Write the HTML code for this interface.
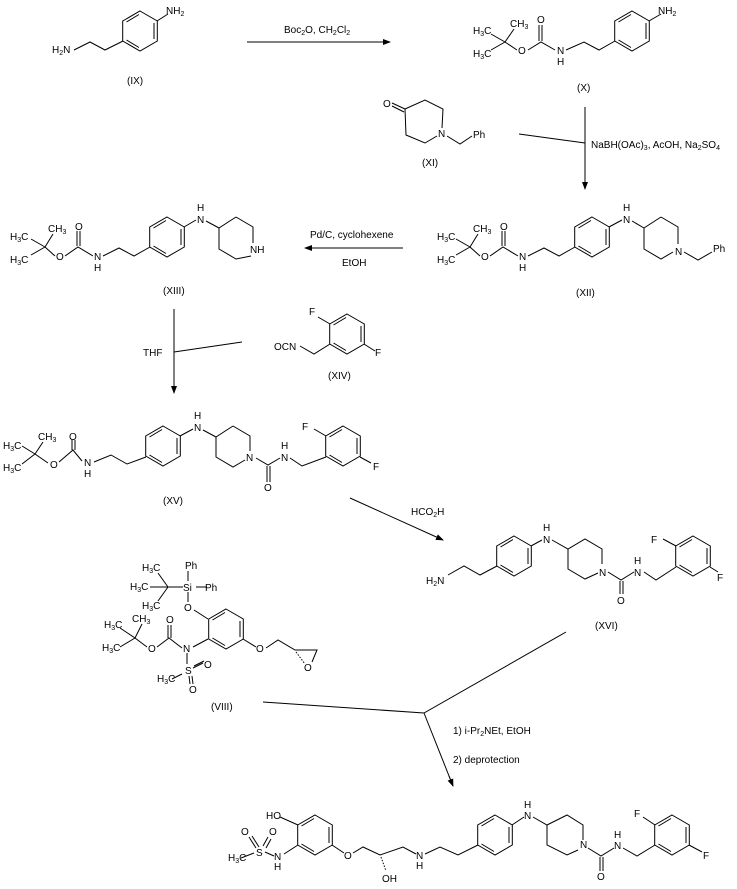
<!DOCTYPE html>
<html><head><meta charset="utf-8"><style>
html,body{margin:0;padding:0;background:#fff}
svg{display:block}
text{font-family:"Liberation Sans",sans-serif;font-size:10px;fill:#000}
.s{font-size:7px}
</style></head><body>
<svg width="737" height="889" viewBox="0 0 737 889" xmlns="http://www.w3.org/2000/svg">
<defs>
<g id="h"><polygon points="0,-20 17.3,-10 17.3,10 0,20 -17.3,10 -17.3,-10" fill="none" stroke="#000"/></g>
<g id="a"><polygon points="0,-20 17.3,-10 17.3,10 0,20 -17.3,10 -17.3,-10" fill="none" stroke="#000"/>
<path d="M14,-8 L14,8 M-1,16.5 L-13.5,9 M-13.5,-9 L-1,-16.5" stroke="#000" fill="none"/></g>
<marker id="ar" markerWidth="8" markerHeight="6" refX="7" refY="3" orient="auto" markerUnits="userSpaceOnUse"><path d="M0,0 L8,3 L0,6 z" fill="#000"/></marker>
</defs>
<g stroke="#000" stroke-width="1" fill="none">
<!-- IX -->
<use href="#a" x="140" y="31"/>
<path d="M157,21 L168,14 M123,41 L105,50 L90,42 L74,50"/>
<path d="M247,42 L390,42" marker-end="url(#ar)"/>
<!-- X -->
<use href="#a" x="632" y="31"/>
<path d="M649,21 L661,14 M615,41 L599,50 L584,42 L566,50 M555,50 L541,42 L528,50 M517,50 L505,42 L514,29 M505,42 L491,34 M505,42 L491,50 M539,41 L539,25 M542,41 L542,25"/>
<!-- XI -->
<path d="M392,103 L405,109 M392,106 L404,112 M405,109 L425,100 L443,109 L442,128 M437,136 L425,143 L406,135 L405,109 M447,136 L460,144 L472,136"/>
<path d="M585,107 L585,189" marker-end="url(#ar)"/>
<path d="M519,134 L585,143"/>
<!-- XII -->
<use href="#a" x="592" y="237"/>
<path d="M609,227 L622,220 M632,221 L644,228 M661,217 L678,227 L678,244 M673,252 L661,259 L644,249 L644,228 L661,217 M684,252 L698,260 L712,252 M575,247 L559,256 L544,248 L528,256 M518,256 L503,247 L490,256 M480,256 L470,247 L478,234 M470,247 L456,239 M470,247 L456,255 M502,246 L502,231 M505,246 L505,231"/>
<path d="M403,248 L305,248" marker-end="url(#ar)"/>
<!-- XIII -->
<use href="#a" x="167" y="237"/>
<path d="M184,227 L196,220 M206,221 L219,228 M236,217 L253,227 L253,243 M251,256 L236,259 L219,249 L219,228 L236,217 M150,247 L134,256 L119,248 L103,256 M93,256 L78,247 L65,256 M55,256 L45,247 L53,234 M45,247 L31,239 M45,247 L31,255 M77,246 L77,231 M80,246 L80,231"/>
<path d="M174,309 L174,393" marker-end="url(#ar)"/>
<path d="M174,352 L242,342"/>
<!-- XIV -->
<use href="#a" x="347" y="334"/>
<path d="M330,324 L318,317 M364,344 L375,351 M330,344 L314,354 L300,346"/>
<!-- XV -->
<use href="#a" x="163" y="446"/>
<path d="M180,436 L193,429 M203,430 L216,437 M233,426 L250,436 L250,451 M245,460 L233,467 L216,457 L216,437 L233,426 M256,458 L268,465 L280,458 M290,458 L302,466 L326,457 M267,466 L267,482 M270,466 L270,482 M326,436 L314,429 M360,457 L371,463"/>
<use href="#a" x="343" y="446"/>
<path d="M146,457 L127,464 L111,455 L94,462 M82,461 L73,450 L59,462 M48,463 L35,454 L43,442 M35,454 L22,446 M35,454 L22,464 M72,450 L72,440 M75,450 L75,440"/>
<path d="M350,498 L443,540" marker-end="url(#ar)"/>
<!-- XVI -->
<use href="#a" x="514" y="556"/>
<path d="M497,566 L480,575 L464,566 L448,575 M531,546 L542,540 M552,540 L568,549 L585,539 L602,549 L602,564 M598,573 L585,579 L568,569 L568,549 M608,572 L621,580 L634,572 M644,572 L656,580 L676,567 M620,581 L620,594 M623,581 L623,594 M676,546 L663,539 M710,567 L718,572"/>
<use href="#a" x="693" y="556"/>
<!-- VIII -->
<use href="#a" x="226" y="629"/>
<path d="M168,587 L183,587 M196,587 L207,587 M188,581 L188,571 M188,592 L188,602 M168,587 L158,573 M168,587 L150,587 M168,587 L158,601 M208,619 L194,610 M208,639 L193,647 M243,639 L256,647 M182,648 L169,638 L157,647 M147,647 L135,638 L142,624 M135,638 L120,628 M135,638 L120,647 M168,638 L168,625 M171,638 L171,625 M187,653 L187,664 M193,668 L203,663 M194,666 L204,661 M189,676 L190,684 M192,676 L193,684 M182,674 L172,679 M266,648 L278,640 L295,650 L317,650 L312,662"/>
<path d="M296,652 L305,664" stroke-dasharray="1.5,1.5"/>
<path d="M263,702 L424,713 L566,632 M424,713 L453,786" />
<path d="M449,776 L453,786" marker-end="url(#ar)"/>
<!-- final -->
<use href="#a" x="315" y="835"/>
<path d="M298,825 L280,817 M298,845 L284,854 M274,856 L265,852 M254,853 L241,858 M256,848 L249,837 M259,847 L252,836 M263,846 L268,837 M266,848 L271,839 M332,845 L344,853 M353,853 L363,847 L380,855 L403,847 L416,854 M425,854 L440,847 L458,855 L478,845"/>
<path d="M381,857 L386,871" stroke-dasharray="1.5,1.5"/>
<use href="#a" x="495" y="835"/>
<path d="M512,825 L524,817 M533,817 L547,825 L567,815 L583,825 L583,840 M578,850 L567,855 L547,845 L547,825 M588,848 L601,856 L614,848 M623,848 L637,856 L655,845 M600,857 L600,871 M603,857 L603,871 M655,825 L643,817 M689,845 L702,852"/>
<use href="#a" x="672" y="835"/>
</g>
<g>
<text x="166" y="14">NH<tspan class="s" dy="2">2</tspan></text>
<text x="52" y="53">H<tspan class="s" dy="2">2</tspan><tspan dy="-2">N</tspan></text>
<text x="127" y="84">(IX)</text>
<text x="284" y="33">Boc<tspan class="s" dy="2">2</tspan><tspan dy="-2">O, CH</tspan><tspan class="s" dy="2">2</tspan><tspan dy="-2">Cl</tspan><tspan class="s" dy="2">2</tspan></text>
<text x="658" y="14">NH<tspan class="s" dy="2">2</tspan></text>
<text x="557" y="54">N</text><text x="557" y="65">H</text>
<text x="537" y="23">O</text><text x="518" y="54">O</text>
<text x="510" y="27">CH<tspan class="s" dy="2">3</tspan></text>
<text x="473" y="34">H<tspan class="s" dy="2">3</tspan><tspan dy="-2">C</tspan></text>
<text x="473" y="57">H<tspan class="s" dy="2">3</tspan><tspan dy="-2">C</tspan></text>
<text x="577" y="91">(X)</text>
<text x="383" y="107">O</text><text x="438" y="137">N</text><text x="473" y="138">Ph</text>
<text x="422" y="166">(XI)</text>
<text x="591" y="148">NaBH(OAc)<tspan class="s" dy="2">3</tspan><tspan dy="-2">, AcOH, Na</tspan><tspan class="s" dy="2">2</tspan><tspan dy="-2">SO</tspan><tspan class="s" dy="2">4</tspan></text>
<text x="623" y="211">H</text><text x="623" y="223">N</text>
<text x="675" y="255">N</text><text x="713" y="252">Ph</text>
<text x="519" y="260">N</text><text x="519" y="271">H</text>
<text x="500" y="230">O</text><text x="481" y="260">O</text>
<text x="473" y="232">CH<tspan class="s" dy="2">3</tspan></text>
<text x="437" y="240">H<tspan class="s" dy="2">3</tspan><tspan dy="-2">C</tspan></text>
<text x="437" y="263">H<tspan class="s" dy="2">3</tspan><tspan dy="-2">C</tspan></text>
<text x="576" y="296">(XII)</text>
<text x="310" y="238">Pd/C, cyclohexene</text>
<text x="342" y="266">EtOH</text>
<text x="197" y="211">H</text><text x="197" y="223">N</text>
<text x="250" y="253">NH</text>
<text x="94" y="260">N</text><text x="94" y="271">H</text>
<text x="75" y="230">O</text><text x="56" y="260">O</text>
<text x="48" y="232">CH<tspan class="s" dy="2">3</tspan></text>
<text x="10" y="240">H<tspan class="s" dy="2">3</tspan><tspan dy="-2">C</tspan></text>
<text x="10" y="263">H<tspan class="s" dy="2">3</tspan><tspan dy="-2">C</tspan></text>
<text x="163" y="294">(XIII)</text>
<text x="143" y="356">THF</text>
<text x="309" y="315">F</text><text x="375" y="356">F</text>
<text x="274" y="350">OCN</text>
<text x="328" y="379">(XIV)</text>
<text x="194" y="419">H</text><text x="194" y="431">N</text>
<text x="246" y="461">N</text>
<text x="281" y="449">H</text><text x="281" y="461">N</text>
<text x="264" y="491">O</text>
<text x="302" y="430">F</text><text x="373" y="470">F</text>
<text x="84" y="466">N</text><text x="84" y="477">H</text>
<text x="69" y="440">O</text><text x="50" y="468">O</text>
<text x="38" y="440">CH<tspan class="s" dy="2">3</tspan></text>
<text x="3" y="449">H<tspan class="s" dy="2">3</tspan><tspan dy="-2">C</tspan></text>
<text x="3" y="471">H<tspan class="s" dy="2">3</tspan><tspan dy="-2">C</tspan></text>
<text x="163" y="504">(XV)</text>
<text x="411" y="515">HCO<tspan class="s" dy="2">2</tspan><tspan dy="-2">H</tspan></text>
<text x="543" y="531">H</text><text x="543" y="543">N</text>
<text x="599" y="576">N</text>
<text x="634" y="564">H</text><text x="634" y="576">N</text>
<text x="617" y="604">O</text>
<text x="651" y="543">F</text><text x="717" y="581">F</text>
<text x="426" y="584">H<tspan class="s" dy="2">2</tspan><tspan dy="-2">N</tspan></text>
<text x="595" y="629">(XVI)</text>
<text x="185" y="569">Ph</text>
<text x="183" y="591">Si</text><text x="205" y="591">Ph</text>
<text x="142" y="571">H<tspan class="s" dy="2">3</tspan><tspan dy="-2">C</tspan></text>
<text x="130" y="590">H<tspan class="s" dy="2">3</tspan><tspan dy="-2">C</tspan></text>
<text x="142" y="609">H<tspan class="s" dy="2">3</tspan><tspan dy="-2">C</tspan></text>
<text x="184" y="611">O</text>
<text x="166" y="623">O</text>
<text x="183" y="652">N</text>
<text x="148" y="652">O</text>
<text x="132" y="622">CH<tspan class="s" dy="2">3</tspan></text>
<text x="104" y="628">H<tspan class="s" dy="2">3</tspan><tspan dy="-2">C</tspan></text>
<text x="102" y="651">H<tspan class="s" dy="2">3</tspan><tspan dy="-2">C</tspan></text>
<text x="185" y="674">S</text><text x="204" y="668">O</text><text x="189" y="693">O</text>
<text x="157" y="682">H<tspan class="s" dy="2">3</tspan><tspan dy="-2">C</tspan></text>
<text x="256" y="652">O</text><text x="304" y="671">O</text>
<text x="211" y="710">(VIII)</text>
<text x="453" y="734">1) i-Pr<tspan class="s" dy="2">2</tspan><tspan dy="-2">NEt, EtOH</tspan></text>
<text x="453" y="763">2) deprotection</text>
<text x="266" y="819">HO</text>
<text x="256" y="856">S</text>
<text x="241" y="835">O</text><text x="269" y="835">O</text>
<text x="228" y="861">H<tspan class="s" dy="2">3</tspan><tspan dy="-2">C</tspan></text>
<text x="274" y="860">N</text><text x="274" y="870">H</text>
<text x="344" y="859">O</text>
<text x="382" y="882">OH</text>
<text x="416" y="859">N</text><text x="416" y="869">H</text>
<text x="524" y="808">H</text><text x="524" y="819">N</text>
<text x="580" y="848">N</text>
<text x="614" y="838">H</text><text x="614" y="849">N</text>
<text x="597" y="880">O</text>
<text x="634" y="817">F</text><text x="703" y="859">F</text>
</g>
</svg>
</body></html>
